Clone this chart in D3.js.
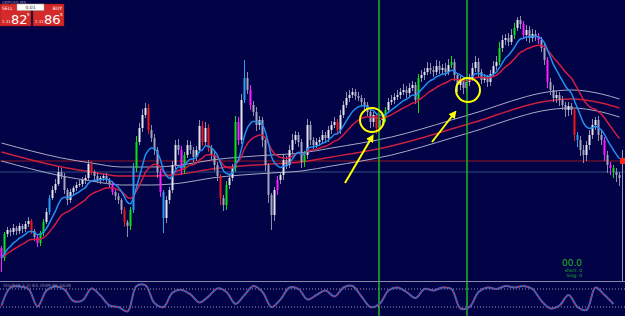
<!DOCTYPE html>
<html>
<head>
<meta charset="utf-8">
<script src="https://cdn.jsdelivr.net/npm/d3@7"></script>
<style>
html, body { margin: 0; padding: 0; background: #020246; }
svg { display: block; }
</style>
</head>
<body>
<svg id="chart" width="625" height="316"></svg>
<script>
// price data, one bar every 3px (arbitrary point units)
var firstOpen = 52;
var closes = [
    42, 66, 70, 68, 72, 69, 74, 71, 76, 79,
    69, 63, 57, 67, 78, 88, 102, 110, 116, 128,
    124, 110, 100, 108, 112, 115, 116, 120, 122, 136,
    128, 124, 120, 122, 124, 120, 116, 108, 104, 100,
    90, 78, 74, 90, 132, 158, 172, 185, 192, 170,
    162, 150, 128, 108, 82, 100, 110, 135, 155, 150,
    130, 145, 155, 150, 143, 150, 174, 158, 172, 152,
    145, 135, 124, 102, 95, 115, 122, 132, 178, 160,
    200, 222, 210, 195, 188, 175, 180, 160, 135, 105,
    85, 110, 120, 125, 140, 135, 150, 160, 165, 158,
    138, 145, 175, 160, 155, 158, 160, 165, 162, 170,
    175, 178, 170, 185, 195, 202, 205, 208, 204, 202,
    198, 195, 188, 178, 185, 172, 180, 182, 190, 198,
    200, 203, 205, 208, 210, 207, 212, 215, 200, 222,
    225, 228, 232, 230, 228, 234, 230, 232, 228, 235,
    238, 225, 215, 220, 212, 218, 222, 232, 238, 228,
    220, 222, 218, 226, 234, 238, 252, 260, 262, 258,
    265, 272, 280, 276, 265, 270, 262, 266, 264, 260,
    252, 240, 218, 210, 202, 205, 200, 195, 190, 194,
    190, 165, 160, 150, 145, 155, 165, 175, 180, 165,
    160, 145, 135, 132, 128, 125, 122
];
var wickUp = [
    2, 2, 3, 2, 4, 2, 3, 2, 3, 4,
    2, 2, 3, 2, 3, 4, 3, 4, 5, 5,
    4, 3, 2, 3, 2, 3, 4, 3, 3, 4,
    3, 2, 3, 2, 2, 3, 2, 3, 2, 3,
    2, 3, 2, 3, 5, 6, 5, 6, 5, 4,
    5, 4, 3, 3, 2, 4, 3, 4, 5, 6,
    4, 3, 5, 4, 3, 4, 6, 5, 6, 4,
    3, 4, 3, 2, 3, 4, 3, 4, 6, 5,
    6, 18, 6, 5, 4, 5, 4, 3, 3, 2,
    2, 3, 4, 3, 5, 4, 5, 6, 4, 3,
    3, 4, 6, 4, 3, 4, 3, 5, 3, 4,
    4, 5, 3, 5, 4, 6, 5, 4, 3, 4,
    3, 4, 3, 2, 3, 2, 3, 4, 3, 4,
    5, 4, 5, 4, 6, 4, 5, 4, 3, 4,
    5, 4, 6, 5, 4, 6, 5, 4, 5, 6,
    6, 3, 2, 4, 3, 5, 4, 5, 6, 4,
    3, 4, 3, 4, 5, 6, 6, 5, 4, 5,
    6, 5, 3, 4, 3, 5, 4, 5, 4, 3,
    3, 4, 3, 4, 5, 4, 3, 4, 3, 4,
    3, 2, 3, 4, 5, 4, 5, 6, 3, 4,
    4, 3, 4, 3, 3, 4, 3
];
var wickDn = [
    14, 3, 3, 4, 3, 4, 3, 4, 3, 3,
    3, 4, 4, 3, 3, 2, 3, 2, 3, 2,
    3, 4, 5, 3, 4, 3, 2, 3, 4, 3,
    3, 4, 3, 4, 3, 3, 4, 3, 4, 4,
    4, 5, 11, 4, 3, 4, 3, 4, 3, 4,
    4, 5, 6, 5, 15, 5, 4, 3, 4, 5,
    5, 4, 3, 4, 5, 4, 3, 4, 3, 4,
    5, 6, 5, 7, 6, 5, 4, 3, 4, 5,
    4, 3, 4, 5, 4, 6, 5, 7, 6, 8,
    15, 6, 5, 4, 5, 4, 3, 4, 4, 5,
    6, 5, 4, 5, 4, 3, 4, 3, 5, 4,
    4, 3, 5, 4, 3, 3, 4, 3, 4, 3,
    4, 5, 5, 6, 5, 6, 4, 5, 4, 3,
    3, 4, 3, 4, 3, 5, 4, 3, 4, 13,
    4, 5, 3, 4, 5, 3, 4, 5, 4, 3,
    3, 6, 7, 5, 6, 5, 4, 3, 4, 5,
    4, 3, 5, 4, 3, 4, 3, 4, 5, 4,
    3, 4, 3, 5, 4, 6, 5, 4, 5, 4,
    4, 5, 6, 5, 4, 5, 6, 5, 7, 6,
    5, 6, 7, 6, 8, 6, 5, 4, 5, 6,
    5, 6, 8, 7, 6, 7, 8
];

// bars painted by the signal indicator
var magentaBars = [0, 12, 37, 53, 60, 79, 83, 92, 174, 179, 182, 201, 203];
var greenBars = [1, 13, 14, 43, 45, 61, 75, 78, 101, 128, 139, 150, 166, 171, 204];
var redBars = [10, 30, 41, 49, 67, 69, 73, 112, 125, 191];
var blueBars = [16, 44, 54, 81, 192];

// long moving average (read at every 10th bar) and its envelope
var longMaBars = [0, 10, 20, 30, 40, 50, 60, 70, 80, 90, 100, 110, 120, 130, 140, 150, 160, 170, 180, 190, 200, 206];
var longMaVals = [148, 140, 133, 128, 124, 124, 126, 131, 134, 136, 138, 143, 148, 154, 162, 171, 180, 190, 198, 201, 197, 192];
var envelope = 9;

var levels = [139, 128];
var signalBars = [126, 155];

// stochastic, one reading every 3rd bar
var stochVals = [
    25, 85, 88, 80, 22, 75, 88, 78, 40, 42,
    82, 58, 25, 20, 5, 90, 92, 33, 20, 68,
    77, 62, 35, 55, 82, 70, 30, 60, 90, 70,
    20, 45, 85, 80, 45, 60, 75, 55, 85, 90,
    55, 20, 30, 75, 85, 70, 50, 80, 75, 85,
    80, 15, 20, 70, 85, 80, 90, 85, 90, 80,
    40, 15, 25, 60, 20, 10, 85, 60, 30
];

var circles = [{ bar: 123.5, price: 180 }, { bar: 155.5, price: 210 }];
var arrows = [
    { b0: 114.5, p0: 117, b1: 123.5, p1: 163 },
    { b0: 143.5, p0: 158, b1: 151, p1: 187 }
];

var svg = d3.select('#chart');
var W = 625, mainBottom = 280;

var x = d3.scaleLinear().domain([0, closes.length - 1]).range([1.5, 1.5 + 3 * (closes.length - 1)]);
var y = d3.scaleLinear().domain([20, 300]).range([mainBottom, 0]);
var ys = d3.scaleLinear().domain([0, 100]).range([313, 283]);

svg.append('rect').attr('width', W).attr('height', 316).attr('fill', '#020246');

var defs = svg.append('defs');
defs.append('clipPath').attr('id', 'mainClip')
    .append('rect').attr('width', W).attr('height', mainBottom);
defs.append('marker').attr('id', 'head')
    .attr('viewBox', '0 0 10 10').attr('refX', 6).attr('refY', 5)
    .attr('markerWidth', 4).attr('markerHeight', 4).attr('orient', 'auto')
    .append('path').attr('d', 'M0,0L10,5L0,10Z').attr('fill', '#ffff00');

var main = svg.append('g').attr('clip-path', 'url(#mainClip)');

// horizontal levels
main.selectAll('line.level').data(levels).enter().append('line')
    .attr('class', 'level')
    .attr('x1', 0).attr('x2', W)
    .attr('y1', function (d) { return y(d); }).attr('y2', function (d) { return y(d); })
    .attr('stroke', function (d, i) { return i === 0 ? '#4a0c32' : '#2c4f82'; })
    .attr('stroke-width', function (d, i) { return i === 0 ? 2 : 1; });

// envelope around the long MA
var longPts = longMaBars.map(function (b, i) { return [b, longMaVals[i]]; });
var curveLine = function (offset) {
    return d3.line()
        .x(function (d) { return x(d[0]); })
        .y(function (d) { return y(d[1] + offset); })
        .curve(d3.curveMonotoneX);
};
main.append('path').attr('d', curveLine(envelope)(longPts))
    .attr('fill', 'none').attr('stroke', '#a9a9c6').attr('stroke-width', 1);
main.append('path').attr('d', curveLine(-envelope)(longPts))
    .attr('fill', 'none').attr('stroke', '#a9a9c6').attr('stroke-width', 1);
main.append('path').attr('d', curveLine(0)(longPts))
    .attr('fill', 'none').attr('stroke', '#c8203e').attr('stroke-width', 1.5);

// candles
var colorOf = function (i) {
    if (magentaBars.indexOf(i) >= 0) return '#ff1cff';
    if (greenBars.indexOf(i) >= 0) return '#10e010';
    if (redBars.indexOf(i) >= 0) return '#ee1818';
    if (blueBars.indexOf(i) >= 0) return '#2a9cf2';
    return null;
};
var bars = closes.map(function (c, i) {
    var o = i === 0 ? firstOpen : closes[i - 1];
    return {
        i: i, open: o, close: c,
        high: Math.max(o, c) + wickUp[i],
        low: Math.min(o, c) - wickDn[i],
        color: colorOf(i)
    };
});

var candle = main.selectAll('g.bar').data(bars).enter().append('g').attr('class', 'bar');
candle.append('line')
    .attr('x1', function (d) { return x(d.i); }).attr('x2', function (d) { return x(d.i); })
    .attr('y1', function (d) { return y(d.high); }).attr('y2', function (d) { return y(d.low); })
    .attr('stroke', function (d) { return d.color || '#8e8eab'; }).attr('stroke-width', 1);
candle.append('rect')
    .attr('x', function (d) { return x(d.i) - 1; })
    .attr('width', 2)
    .attr('y', function (d) { return y(Math.max(d.open, d.close)); })
    .attr('height', function (d) { return Math.max(1, Math.abs(y(d.open) - y(d.close))); })
    .attr('fill', function (d) {
        if (d.color) return d.color;
        return d.close >= d.open ? '#e4e4f0' : '#a4a4bc';
    });

// fast / slow EMA of the closes
var ema = function (period) {
    var k = 2 / (period + 1), out = [], prev = closes[0];
    closes.forEach(function (c, i) {
        prev = i === 0 ? c : prev + k * (c - prev);
        out.push(prev);
    });
    return out;
};
var emaLine = d3.line()
    .x(function (d, i) { return x(i); })
    .y(function (d) { return y(d); })
    .curve(d3.curveMonotoneX);
main.append('path').attr('d', emaLine(ema(21)))
    .attr('fill', 'none').attr('stroke', '#d41c44').attr('stroke-width', 1.5);
main.append('path').attr('d', emaLine(ema(10)))
    .attr('fill', 'none').attr('stroke', '#2290f0').attr('stroke-width', 1.5);

// right edge marker
svg.append('line').attr('x1', 622.5).attr('x2', 622.5).attr('y1', 150).attr('y2', 281)
    .attr('stroke', '#9a9ab4').attr('stroke-width', 1);
svg.append('rect').attr('x', 620).attr('y', y(levels[0]) - 3).attr('width', 5).attr('height', 6)
    .attr('fill', '#ff2020');

// vertical signal lines
svg.selectAll('line.sig').data(signalBars).enter().append('line')
    .attr('class', 'sig')
    .attr('x1', function (d) { return Math.round(x(d)); })
    .attr('x2', function (d) { return Math.round(x(d)); })
    .attr('y1', 0).attr('y2', 316)
    .attr('stroke', '#1fae1f').attr('stroke-width', 1.6);

// yellow annotations
svg.selectAll('circle.mark').data(circles).enter().append('circle')
    .attr('class', 'mark')
    .attr('cx', function (d) { return x(d.bar); }).attr('cy', function (d) { return y(d.price); })
    .attr('r', 12).attr('fill', 'none').attr('stroke', '#ffff00').attr('stroke-width', 2);
svg.selectAll('line.arrow').data(arrows).enter().append('line')
    .attr('class', 'arrow')
    .attr('x1', function (d) { return x(d.b0); }).attr('y1', function (d) { return y(d.p0); })
    .attr('x2', function (d) { return x(d.b1); }).attr('y2', function (d) { return y(d.p1); })
    .attr('stroke', '#ffff00').attr('stroke-width', 2).attr('marker-end', 'url(#head)');

// stochastic sub window
svg.append('line').attr('x1', 0).attr('x2', W).attr('y1', 281.5).attr('y2', 281.5)
    .attr('stroke', '#8a8aa6').attr('stroke-width', 1);
svg.selectAll('line.stlvl').data([80, 20]).enter().append('line')
    .attr('class', 'stlvl')
    .attr('x1', 0).attr('x2', W)
    .attr('y1', function (d) { return ys(d); }).attr('y2', function (d) { return ys(d); })
    .attr('stroke', '#9a9ab8').attr('stroke-width', 1).attr('stroke-dasharray', '1,2');
var stochLine = d3.line()
    .x(function (d, i) { return x(i * 3); })
    .y(function (d) { return ys(d); })
    .curve(d3.curveCatmullRom);
svg.append('path').attr('d', stochLine(stochVals))
    .attr('fill', 'none').attr('stroke', '#2f6fd6').attr('stroke-width', 2);
svg.append('path').attr('d', stochLine(stochVals))
    .attr('fill', 'none').attr('stroke', '#d8202c').attr('stroke-width', 1.2)
    .attr('stroke-dasharray', '2,2');
svg.append('text').attr('x', 3).attr('y', 287)
    .attr('font-family', 'DejaVu Sans').attr('font-size', 4.5).attr('fill', '#8a8aa8')
    .text('Stoch(8,3,3) 83.2049 86.5638');

// status text
svg.append('text').attr('x', 2).attr('y', 3.5)
    .attr('font-family', 'DejaVu Sans').attr('font-size', 4).attr('fill', '#8a8aa8')
    .text('GBPUSD,M5');
svg.append('text').attr('x', 582).attr('y', 266).attr('text-anchor', 'end')
    .attr('font-family', 'DejaVu Sans').attr('font-size', 9).attr('fill', '#22b822')
    .text('00.0');
svg.append('text').attr('x', 582).attr('y', 271.5).attr('text-anchor', 'end')
    .attr('font-family', 'DejaVu Sans').attr('font-size', 4.5).attr('fill', '#22b822')
    .text('short: 0');
svg.append('text').attr('x', 582).attr('y', 277).attr('text-anchor', 'end')
    .attr('font-family', 'DejaVu Sans').attr('font-size', 4.5).attr('fill', '#22b822')
    .text('long: 0');

// one click trading panel
var panel = svg.append('g').attr('transform', 'translate(0,4)');
[{ x: 0, label: 'SELL', big: '82', anchor: 'start' }, { x: 33, label: 'BUY', big: '86', anchor: 'end' }]
    .forEach(function (p) {
        panel.append('rect').attr('x', p.x).attr('y', 0).attr('width', 31).attr('height', 22)
            .attr('fill', '#d42a2a').attr('stroke', '#8a1010').attr('stroke-width', 0.5);
        panel.append('text')
            .attr('x', p.anchor === 'start' ? p.x + 2 : p.x + 29).attr('y', 5.5)
            .attr('text-anchor', p.anchor)
            .attr('font-family', 'DejaVu Sans').attr('font-size', 4.5).attr('fill', '#ffffff')
            .text(p.label);
        panel.append('text').attr('x', p.x + 2).attr('y', 19)
            .attr('font-family', 'DejaVu Sans').attr('font-size', 4).attr('fill', '#ffdede')
            .text('1.31');
        panel.append('text').attr('x', p.x + 11).attr('y', 20)
            .attr('font-family', 'DejaVu Sans').attr('font-size', 13).attr('fill', '#ffffff')
            .text(p.big);
        panel.append('text').attr('x', p.x + 27).attr('y', 12)
            .attr('font-family', 'DejaVu Sans').attr('font-size', 4).attr('fill', '#ffffff')
            .text('5');
    });
panel.append('rect').attr('x', 17).attr('y', 0).attr('width', 27).attr('height', 6.5)
    .attr('fill', '#ffffff').attr('stroke', '#999999').attr('stroke-width', 0.5);
panel.append('text').attr('x', 30.5).attr('y', 5).attr('text-anchor', 'middle')
    .attr('font-family', 'DejaVu Sans').attr('font-size', 4.5).attr('fill', '#222222')
    .text('0.01');
</script>
</body>
</html>
